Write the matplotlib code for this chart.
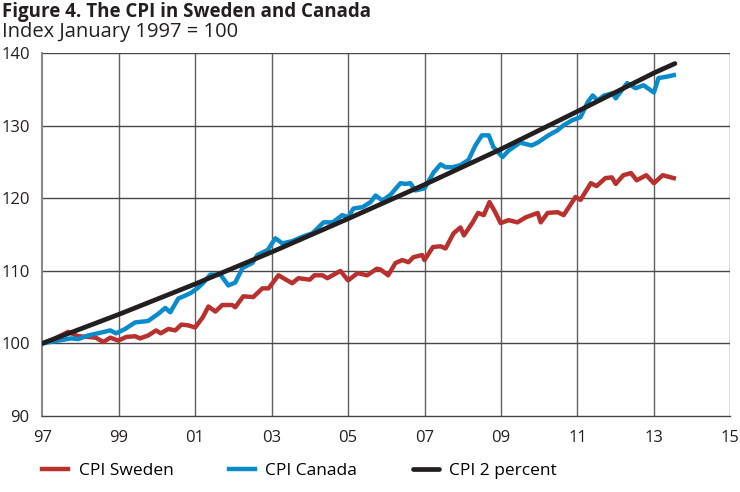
import matplotlib
matplotlib.use('Agg')
import matplotlib.pyplot as plt

plt.rcParams['font.family'] = ['Open Sans', 'DejaVu Sans']

# CPI Sweden (red), index Jan 1997 = 100
sweden_t = [1997.0, 1997.3, 1997.68, 1997.94, 1998.2, 1998.4, 1998.6, 1998.78, 1998.99,
            1999.2, 1999.43, 1999.56, 1999.77, 1999.98, 2000.1, 2000.3, 2000.48, 2000.64,
            2000.82, 2001.0, 2001.2, 2001.35, 2001.53, 2001.71, 2001.97, 2002.05, 2002.26,
            2002.52, 2002.76, 2002.92, 2003.18, 2003.54, 2003.7, 2004.0, 2004.12, 2004.33,
            2004.46, 2004.8, 2005.0, 2005.25, 2005.5, 2005.75, 2005.85, 2006.05, 2006.24,
            2006.42, 2006.58, 2006.71, 2006.94, 2007.0, 2007.22, 2007.42, 2007.55, 2007.76,
            2007.94, 2008.03, 2008.26, 2008.4, 2008.55, 2008.7, 2008.85, 2008.99, 2009.2,
            2009.43, 2009.65, 2009.96, 2010.04, 2010.22, 2010.48, 2010.64, 2010.95, 2011.08,
            2011.35, 2011.5, 2011.73, 2011.9, 2012.0, 2012.2, 2012.4, 2012.55, 2012.8,
            2013.0, 2013.23, 2013.52]
sweden_v = [100.0, 100.6, 101.6, 101.0, 100.9, 100.8, 100.2, 100.8, 100.4,
            100.9, 101.0, 100.7, 101.1, 101.8, 101.4, 102.0, 101.8, 102.6,
            102.5, 102.2, 103.6, 105.1, 104.4, 105.3, 105.3, 105.0, 106.5,
            106.4, 107.6, 107.6, 109.4, 108.3, 109.0, 108.8, 109.4, 109.4,
            109.0, 110.0, 108.7, 109.7, 109.4, 110.3, 110.2, 109.4, 111.1,
            111.5, 111.2, 111.9, 112.2, 111.5, 113.3, 113.4, 113.1, 115.2,
            116.0, 114.9, 116.7, 118.0, 117.7, 119.5, 118.1, 116.6, 117.0,
            116.7, 117.4, 118.0, 116.7, 118.0, 118.1, 117.7, 120.2, 119.8,
            122.1, 121.7, 122.8, 122.9, 122.0, 123.2, 123.5, 122.5, 123.2,
            122.1, 123.2, 122.8]

# CPI Canada (blue)
canada_t = [1997.0, 1997.42, 1997.76, 1997.94, 1998.2, 1998.54, 1998.78, 1998.93, 1999.17,
            1999.43, 1999.77, 2000.04, 2000.22, 2000.35, 2000.56, 2000.74, 2000.9, 2001.08,
            2001.2, 2001.4, 2001.66, 2001.87, 2002.05, 2002.24, 2002.5, 2002.63, 2002.9,
            2003.1, 2003.28, 2003.54, 2003.8, 2004.07, 2004.36, 2004.6, 2004.85, 2005.0,
            2005.14, 2005.38, 2005.59, 2005.72, 2005.9, 2006.11, 2006.37, 2006.5, 2006.63,
            2006.76, 2007.0, 2007.24, 2007.42, 2007.55, 2007.73, 2007.94, 2008.15, 2008.33,
            2008.5, 2008.68, 2008.8, 2009.04, 2009.2, 2009.5, 2009.8, 2009.96, 2010.24,
            2010.48, 2010.64, 2010.87, 2011.08, 2011.27, 2011.4, 2011.53, 2011.7, 2011.92,
            2012.0, 2012.3, 2012.52, 2012.73, 2013.0, 2013.12, 2013.35, 2013.52]
canada_v = [100.0, 100.4, 100.7, 100.6, 101.1, 101.5, 101.8, 101.4, 102.0,
            102.9, 103.1, 104.1, 104.9, 104.3, 106.2, 106.6, 107.0, 107.7,
            108.3, 109.5, 109.5, 108.0, 108.4, 110.4, 111.1, 112.2, 112.9,
            114.5, 113.8, 114.1, 114.7, 115.2, 116.7, 116.7, 117.7, 117.4,
            118.6, 118.8, 119.5, 120.4, 119.7, 120.5, 122.1, 122.0, 122.1,
            121.1, 121.4, 123.6, 124.7, 124.3, 124.3, 124.6, 125.3, 127.3,
            128.7, 128.7, 127.1, 125.7, 126.6, 127.7, 127.3, 127.7, 128.7,
            129.4, 130.1, 130.8, 131.2, 133.3, 134.2, 133.5, 134.2, 134.5,
            133.8, 135.9, 135.2, 135.6, 134.6, 136.6, 136.8, 137.0]

# CPI growing 2 percent a year (black)
target_t = [1997.0, 1999.0, 2001.0, 2003.0, 2005.0, 2007.0, 2009.0, 2011.0, 2013.0, 2013.55]
target_v = [100.0, 104.0, 108.2, 112.6, 117.2, 121.9, 126.8, 132.0, 137.3, 138.6]

x_ticks = [1997, 1999, 2001, 2003, 2005, 2007, 2009, 2011, 2013, 2015]
x_labels = ['97', '99', '01', '03', '05', '07', '09', '11', '13', '15']
y_ticks = [90, 100, 110, 120, 130, 140]

fig = plt.figure(figsize=(7.4, 4.92), dpi=100)
ax = fig.add_axes([0.057, 0.1545, 0.930, 0.737])

# rutnät
for x in x_ticks[1:]:
    ax.axvline(x, color='#606060', lw=1.0, zorder=1)
for y in y_ticks[1:]:
    ax.axhline(y, color='#484848', lw=1.0, zorder=1)

ax.plot(sweden_t, sweden_v, color='#b8312f', lw=3.2, solid_joinstyle='round', label='CPI Sweden', zorder=3)
ax.plot(canada_t, canada_v, color='#0a8bcb', lw=3.2, solid_joinstyle='round', label='CPI Canada', zorder=3)
ax.plot(target_t, target_v, color='#231f20', lw=3.4, solid_capstyle='round', label='CPI 2 percent', zorder=4)

ax.set_xlim(1997, 2015)
ax.set_ylim(90, 140)
ax.set_xticks(x_ticks)
ax.set_xticklabels(x_labels)
ax.set_yticks(y_ticks)
ax.tick_params(length=0, labelsize=12, colors='#231f20')
ax.tick_params(axis='x', pad=10)
ax.tick_params(axis='y', pad=9)

for side in ['top', 'right']:
    ax.spines[side].set_visible(False)
ax.spines['left'].set_color('#888888')
ax.spines['left'].set_linewidth(1.5)
ax.spines['bottom'].set_color('#444444')
ax.spines['bottom'].set_linewidth(1.0)

fig.text(0.003, 0.975, 'Figure 4. The CPI in Sweden and Canada', fontsize=13.5,
         fontweight='bold', va='center', ha='left', color='#231f20')
fig.text(0.003, 0.934, 'Index January 1997 = 100', fontsize=14.5,
         va='center', ha='left', color='#231f20')

fig.legend(loc='lower left', bbox_to_anchor=(0.036, -0.005), ncol=3, frameon=False,
           fontsize=12.5, handlelength=1.5, handletextpad=0.6, columnspacing=3.2)

fig.savefig('out.png', dpi=100)
